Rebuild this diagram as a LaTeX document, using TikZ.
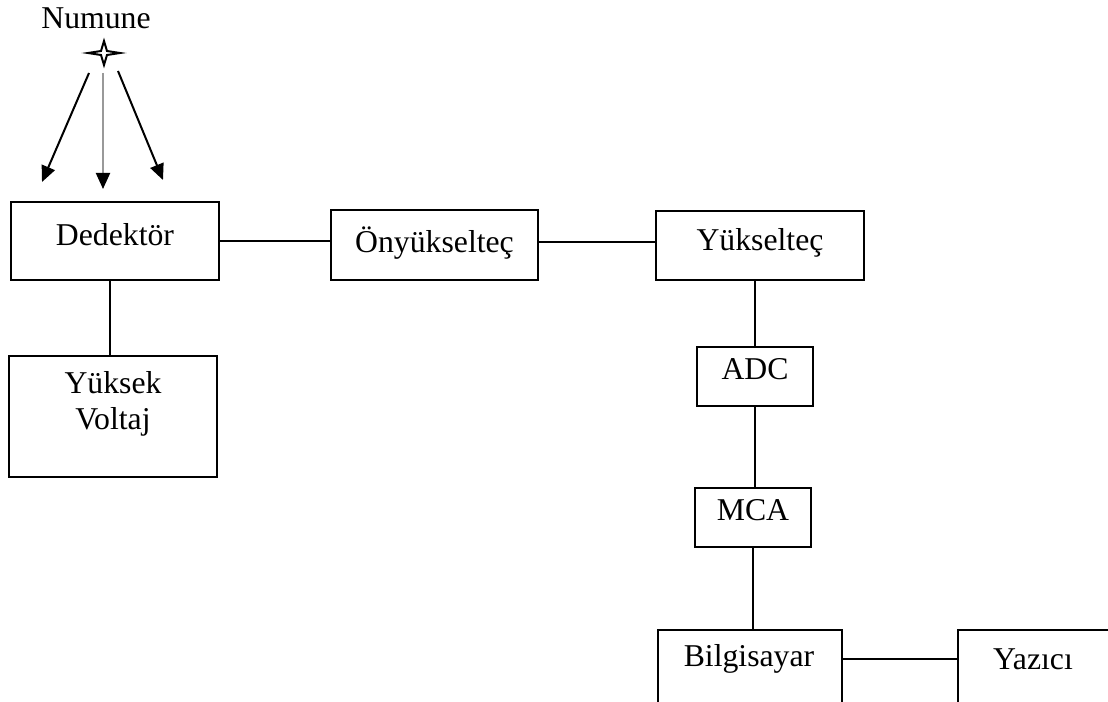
\documentclass[tikz,border=0pt]{standalone}
\usepackage{fontspec}
\setmainfont{Liberation Serif}
\usetikzlibrary{arrows.meta}
\begin{document}
\begin{tikzpicture}[x=0.75pt,y=-0.75pt,
  box/.style={draw,line width=1.5pt,inner sep=0pt},
  lbl/.style={font=\fontsize{23.8pt}{27pt}\selectfont,inner sep=0pt,align=center},
  conn/.style={line width=1.5pt},
  ray/.style={line width=1.5pt,-{Triangle[length=12pt,width=10.5pt,color=black]}}]
\useasboundingbox (0,0) rectangle (1108,702);
\clip (0,0) rectangle (1108,702);
% boxes
\node[box,minimum width=156pt,minimum height=58.5pt] (ded) at (115,241) {};
\node[lbl] (dedt) at (115,235) {Dedektör};
\node[box,minimum width=156pt,minimum height=90.75pt] (hv) at (113,416.5) {};
\node[lbl] (hvt) at (113,404) {Yüksek\\Voltaj};
\node[box,minimum width=155.25pt,minimum height=52.5pt] (ony) at (434.5,245) {};
\node[lbl] (onyt) at (434.5,243) {Önyükselteç};
\node[box,minimum width=156pt,minimum height=51.75pt] (yuk) at (760,245.5) {};
\node[lbl] (yukt) at (760,243) {Yükselteç};
\node[box,minimum width=87pt,minimum height=44.25pt] (adc) at (755,376.5) {};
\node[lbl] (adct) at (755,369) {ADC};
\node[box,minimum width=87pt,minimum height=44.25pt] (mca) at (753,517.5) {};
\node[lbl] (mcat) at (753,510) {MCA};
\node[box,anchor=north west,minimum width=138pt,minimum height=90pt] (bil) at (657,629) {};
\node[lbl] (bilt) at (749,659) {Bilgisayar};
\node[box,anchor=north west,minimum width=114pt,minimum height=90pt] (yaz) at (957,629) {};
\node[lbl] (yazt) at (1033,659) {Yazıcı};
% source
\node[lbl] (num) at (96,18) {Numune};
\coordinate (src) at (104,53);
\draw[line width=1.5pt,line join=miter,fill=white] (src) ++(-16,0) -- ++(13,-2) -- ++(3,-10) -- ++(3,10) -- ++(13,2) -- ++(-13,2) -- ++(-3,10) -- ++(-3,-10) -- cycle;
\coordinate (s1) at (89,73);
\coordinate (s2) at (103,73);
\coordinate (s3) at (118,71);
\coordinate (t1) at (42,182);
\coordinate (t2) at (103,189);
\coordinate (t3) at (163,180);
\draw[ray] (s1) -- (t1);
\draw[ray,draw=black!40] (s2) -- (t2);
\draw[ray] (s3) -- (t3);
% connectors
\draw[conn] (ded.east) -- (ded.east -| ony.west);
\coordinate (c2) at (0,242);
\draw[conn] (ony.east |- c2) -- (yuk.west |- c2);
\coordinate (c1) at (110,280);
\draw[conn] (ded.south -| c1) -- (hv.north -| c1);
\draw[conn] (yuk.south -| adc.north) -- (adc.north);
\draw[conn] (adc.south) -- (adc.south |- mca.north);
\draw[conn] (mca.south) -- (mca.south |- bil.north);
\draw[conn] (bilt -| bil.east) -- (bilt -| yaz.west);
\end{tikzpicture}
\end{document}
